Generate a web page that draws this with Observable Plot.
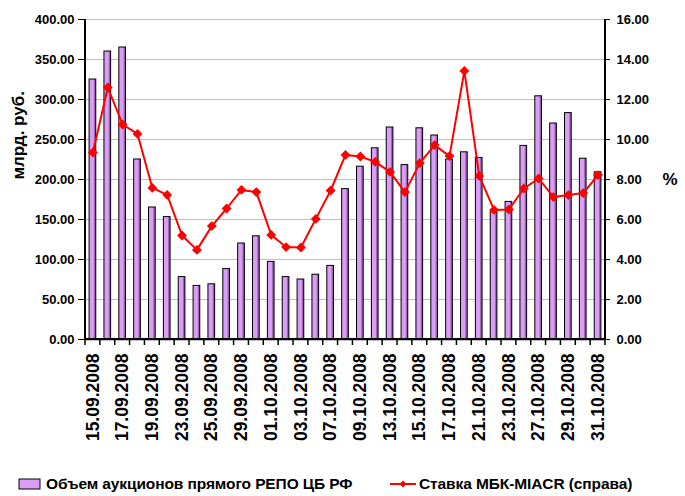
<!DOCTYPE html>
<html>
<head>
<meta charset="utf-8">
<script src="https://cdn.jsdelivr.net/npm/d3@7"></script>
<script src="https://cdn.jsdelivr.net/npm/@observablehq/plot@0.6"></script>
<style>
  html, body { margin: 0; padding: 0; background: #fff; }
  #wrap { position: relative; width: 685px; height: 496px; font-family: "Liberation Sans", Arial, sans-serif; }
  #chart svg text { font-weight: bold; fill: #000; }
  .leg { position: absolute; top: 474px; height: 20px; display: flex; align-items: center; font-weight: bold; font-size: 15.5px; letter-spacing: -0.1px; color: #000; white-space: nowrap; }
</style>
</head>
<body>
<div id="wrap">
  <div id="chart"></div>
  <div class="leg" id="leg1" style="left:18px;"></div>
  <div class="leg" id="leg2" style="left:389px;"></div>
</div>
<script>
const dates = [
  "15.09.2008","16.09.2008","17.09.2008","18.09.2008","19.09.2008",
  "22.09.2008","23.09.2008","24.09.2008","25.09.2008","26.09.2008",
  "29.09.2008","30.09.2008","01.10.2008","02.10.2008","03.10.2008",
  "06.10.2008","07.10.2008","08.10.2008","09.10.2008","10.10.2008",
  "13.10.2008","14.10.2008","15.10.2008","16.10.2008","17.10.2008",
  "20.10.2008","21.10.2008","22.10.2008","23.10.2008","24.10.2008",
  "27.10.2008","28.10.2008","29.10.2008","30.10.2008","31.10.2008"
];
// Объем аукционов прямого РЕПО ЦБ РФ, млрд. руб.
const repoVolume = [
  325, 360, 365, 225, 165,
  153, 78, 67, 69, 88,
  120, 129, 97, 78, 75,
  81, 92, 188, 216, 239,
  265, 218, 264, 255, 225,
  234, 227, 159, 172, 242,
  304, 270, 283, 226, 209
];
// Ставка МБК-MIACR, %
const miacrRate = [
  9.35, 12.6, 10.75, 10.28, 7.58,
  7.23, 5.2, 4.48, 5.67, 6.55,
  7.48, 7.37, 5.23, 4.62, 4.6,
  6.03, 7.45, 9.23, 9.15, 8.88,
  8.38, 7.37, 8.82, 9.72, 9.17,
  13.43, 8.18, 6.48, 6.5, 7.55,
  8.05, 7.12, 7.22, 7.32, 8.22
];
const leftTicks = [0, 50, 100, 150, 200, 250, 300, 350, 400];
const rightTicks = [0, 2, 4, 6, 8, 10, 12, 14, 16];
const xTickLabels = dates.filter((d, i) => i % 2 === 0);
const seriesNames = ["Объем аукционов прямого РЕПО ЦБ РФ", "Ставка МБК-MIACR (справа)"];
const barColor = "#d99df5";
const barShade = "#9b62b3";
const lineColor = "#ff0000";

const W = 685, H = 465, mL = 85, mR = 80, mT = 19, mB = 126;
const ratio = leftTicks[leftTicks.length - 1] / rightTicks[rightTicks.length - 1];
const data = dates.map((d, i) => ({date: d, repo: repoVolume[i], rate: miacrRate[i]}));

const chart = Plot.plot({
  width: W,
  height: H,
  marginTop: mT,
  marginLeft: mL,
  marginRight: mR,
  marginBottom: mB,
  style: {fontFamily: "'Liberation Sans', Arial, sans-serif", background: "#fff", overflow: "visible"},
  x: {type: "band", domain: dates, round: false, paddingInner: 0.55, paddingOuter: 0.275},
  y: {domain: [0, 400]},
  marks: [
    Plot.ruleY(leftTicks.slice(1), {stroke: "#c0c0c0", strokeWidth: 1}),
    Plot.barY(data, {x: "date", y: "repo", fill: barColor}),
    Plot.barY(data, {x: "date", y: "repo", fill: barShade, insetLeft: 4.8}),
    Plot.barY(data, {x: "date", y: "repo", fill: "none", stroke: "#000", strokeWidth: 1}),
    Plot.line(data, {x: "date", y: d => d.rate * ratio, stroke: lineColor, strokeWidth: 2}),
    Plot.dot(data, {x: "date", y: d => d.rate * ratio, symbol: "diamond2", r: 3.5, fill: lineColor, stroke: lineColor}),
    Plot.ruleY([0], {stroke: "#000", strokeWidth: 1.5}),
    Plot.axisY({ticks: leftTicks, tickFormat: d => d.toFixed(2), tickSize: 7, tickPadding: 4, fontSize: 13, label: null}),
    Plot.axisY({anchor: "right", ticks: leftTicks, tickFormat: d => (d / ratio).toFixed(2), tickSize: 4, tickPadding: 7, fontSize: 13, label: null}),
    Plot.axisX({ticks: xTickLabels, tickRotate: -90, tickSize: 0, tickPadding: 14, fontSize: 17.5, label: null}),
    Plot.text(["млрд. руб."], {text: d => d, frameAnchor: "left", rotate: -90, dx: -67, fontSize: 17}),
    Plot.text(["%"], {text: d => d, frameAnchor: "right", dx: 72, fontSize: 17})
  ]
});
document.getElementById("chart").appendChild(chart);

// axis lines and category boundary ticks, derived from the scales
const xs = chart.scale("x"), ys = chart.scale("y");
const x0 = xs.range[0], x1 = xs.range[1];
const yTop = ys.apply(400), yBot = ys.apply(0);
const step = (x1 - x0) / dates.length;
const svg = d3.select(chart);
const g = svg.append("g").attr("stroke", "#000");
g.append("line").attr("x1", x0).attr("x2", x0).attr("y1", yTop).attr("y2", yBot).attr("stroke-width", 2);
g.append("line").attr("x1", x1).attr("x2", x1).attr("y1", yTop).attr("y2", yBot).attr("stroke-width", 2);
g.append("line").attr("x1", x0).attr("x2", x1).attr("y1", yBot).attr("y2", yBot).attr("stroke-width", 2);
for (let i = 0; i <= dates.length; i++) {
  g.append("line").attr("x1", x0 + i * step).attr("x2", x0 + i * step).attr("y1", yBot).attr("y2", yBot + 6).attr("stroke-width", 1.5);
}

document.getElementById("leg1").innerHTML =
  `<svg width="24" height="12" style="margin-right:4px"><rect x="1" y="1" width="21" height="10" fill="${barColor}" stroke="#000" stroke-width="1"/></svg>${seriesNames[0]}`;
document.getElementById("leg2").innerHTML =
  `<svg width="28" height="12" style="margin-right:2px"><line x1="1" x2="27" y1="6" y2="6" stroke="${lineColor}" stroke-width="2"/><path d="M14,2.5L17.5,6L14,9.5L10.5,6Z" fill="${lineColor}"/></svg>${seriesNames[1]}`;
</script>
</body>
</html>
